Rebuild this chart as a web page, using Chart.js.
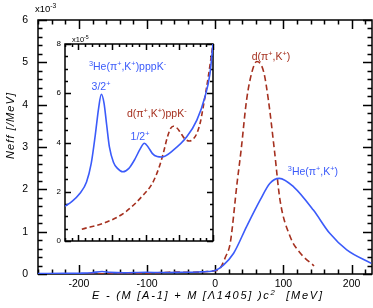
<!DOCTYPE html>
<html>
<head>
<meta charset="utf-8">
<script src="https://cdn.jsdelivr.net/npm/chart.js@4/dist/chart.umd.min.js"></script>
<style>
    html, body { margin: 0; padding: 0; background: #fff; }
    #wrap { position: relative; width: 373px; height: 308px; }
    #main { position: absolute; left: 0; top: 0; }
    #inset { position: absolute; left: 40px; top: 28px; }
</style>
</head>
<body>
<div id="wrap">
    <canvas id="main" width="373" height="308" style="width:373px;height:308px"></canvas>
    <canvas id="inset" width="180" height="222" style="width:180px;height:222px"></canvas>
</div>
<script>
// main panel, N_eff in units of 1e-3 /MeV
const heX = [-260, -220, -198, -181, -166, -154, -134, -102, -77, -50, -24, -11, 0, 12, 27, 46, 66, 80, 94, 115, 144, 168, 193, 229];
const heY = [0.010, 0.014, 0.019, 0.031, 0.060, 0.038, 0.028, 0.040, 0.034, 0.040, 0.049, 0.058, 0.080, 0.21, 0.49, 1.12, 1.75, 2.14, 2.26, 2.06, 1.51, 0.96, 0.57, 0.25];
const dX = [-200, -158, -130, -104, -90, -74, -59, -49, -35, -24, -12, 0, 7, 15, 22, 32, 38, 46, 54, 61, 71, 78, 87, 95, 110, 125, 145];
const dY = [0.005, 0.008, 0.012, 0.019, 0.024, 0.036, 0.047, 0.044, 0.041, 0.044, 0.058, 0.080, 0.13, 0.40, 0.73, 2.14, 2.93, 4.11, 4.78, 5.02, 4.78, 4.11, 2.90, 1.75, 0.88, 0.49, 0.19];
const mainXTicks = [-200, -100, 0, 100, 200];
const mainYTicks = [0, 1, 2, 3, 4, 5, 6];

// inset, units of 1e-5 /MeV
const heInX = [-220, -210, -198, -188, -181, -175, -170, -166, -162, -158, -154, -148, -142, -134, -125, -117, -108, -102, -96, -90, -83, -76, -59, -39, -24, -12, -4.5, 0];
const heInY = [1.41, 1.60, 1.93, 2.40, 3.15, 4.30, 5.40, 5.96, 5.60, 4.70, 3.82, 3.20, 2.95, 2.81, 2.95, 3.28, 3.75, 3.97, 3.80, 3.55, 3.43, 3.41, 3.69, 4.23, 4.91, 5.85, 6.80, 8.00];
const dInX = [-195, -158, -130, -104, -90, -80, -74, -68, -63, -59, -54, -49, -42, -35, -29, -24, -19, -14.5, -7, 0];
const dInY = [0.48, 0.77, 1.18, 1.86, 2.35, 3.00, 3.55, 4.20, 4.57, 4.66, 4.60, 4.43, 4.15, 4.06, 4.15, 4.37, 4.80, 5.45, 6.67, 8.00];
const insetYTicks = [0, 2, 4, 6, 8];

const BLUE = '#3b5bfa';
const RED = '#a5301f';
const FONT = '"Liberation Sans", Arial, sans-serif';

const pts = (xs, ys) => xs.map((x, i) => ({ x: x, y: ys[i] }));

const range = (from, to, step) => {
    const out = [];
    for (let v = Math.ceil(from / step - 1e-9) * step; v <= to + 1e-9; v += step) out.push(v);
    return out;
};

// text with ^{..} superscripts; opts.width spreads the letters to fit
function richText(ctx, str, x, y, size, color, opts) {
    opts = opts || {};
    const parts = [];
    const re = /\^\{([^}]*)\}|([^\^]+)/g;
    let m;
    while ((m = re.exec(str))) {
        if (m[2]) parts.push({ t: m[2], sup: false });
        else parts.push({ t: m[1], sup: true });
    }
    const italic = opts.italic ? 'italic ' : '';
    const fontOf = p => italic + (p.sup ? size * 0.7 : size) + 'px ' + FONT;
    let total = 0, chars = 0;
    parts.forEach(p => {
        ctx.font = fontOf(p);
        total += ctx.measureText(p.t).width;
        chars += p.t.length;
    });
    const extra = opts.width ? (opts.width - total) / (chars - 1) : 0;
    let cx = x;
    if (opts.align === 'center') cx = x - (opts.width || total) / 2;
    ctx.save();
    ctx.fillStyle = color;
    ctx.textBaseline = 'alphabetic';
    ctx.textAlign = 'left';
    parts.forEach(p => {
        ctx.font = fontOf(p);
        const dy = p.sup ? -size * 0.4 : 0;
        for (const ch of p.t) {
            ctx.fillText(ch, cx, y + dy);
            cx += ctx.measureText(ch).width + extra;
        }
    });
    ctx.restore();
}

function frameAndTicks(chart, o) {
    const { ctx, chartArea: a, scales: { x, y } } = chart;
    ctx.save();
    ctx.strokeStyle = '#000';
    ctx.lineWidth = o.lw;
    ctx.beginPath();
    const xt = (vals, len) => vals.forEach(v => {
        const px = Math.round(x.getPixelForValue(v)) + 0.5;
        ctx.moveTo(px, a.bottom); ctx.lineTo(px, a.bottom - len);
        ctx.moveTo(px, a.top); ctx.lineTo(px, a.top + len);
    });
    const yt = (vals, len) => vals.forEach(v => {
        const py = Math.round(y.getPixelForValue(v)) + 0.5;
        ctx.moveTo(a.left, py); ctx.lineTo(a.left + len, py);
        ctx.moveTo(a.right, py); ctx.lineTo(a.right - len, py);
    });
    xt(range(x.min, x.max, o.xMinor), o.minor);
    xt(range(x.min, x.max, o.xMajor), o.major);
    yt(range(y.min, y.max, o.yMinor), o.minor);
    yt(range(y.min, y.max, o.yMajor), o.major);
    ctx.stroke();
    ctx.strokeRect(a.left, a.top, a.right - a.left, a.bottom - a.top);
    ctx.restore();
}

const mainPlugin = {
    id: 'mainDeco',
    beforeDatasetsDraw(chart) {
        frameAndTicks(chart, { lw: 1.5, xMinor: 20, xMajor: 100, yMinor: 0.2, yMajor: 1, minor: 4.5, major: 9 });
    },
    afterDraw(chart) {
        const { ctx, scales: { x, y } } = chart;
        richText(ctx, 'x10^{-3}', 35, 12, 9.5, '#000');
        richText(ctx, 'd(π^{+},K^{+})', x.getPixelForValue(53.5), y.getPixelForValue(5.06), 10.5, RED);
        richText(ctx, '^{3}He(π^{+},K^{+})', x.getPixelForValue(106.5), y.getPixelForValue(2.34), 10.5, BLUE);
        // axis titles
        richText(ctx, 'E - (M [A-1] + M [Λ1405] )c^{2}  [MeV]', 207, 299, 11, '#000', { italic: true, align: 'center', width: 230 });
        ctx.save();
        ctx.translate(14, 126);
        ctx.rotate(-Math.PI / 2);
        richText(ctx, 'Neff [/MeV]', 0, 0, 11, '#000', { italic: true, align: 'center', width: 66 });
        ctx.restore();
    }
};

const insetPlugin = {
    id: 'insetDeco',
    beforeDatasetsDraw(chart) {
        frameAndTicks(chart, { lw: 1.5, xMinor: 10, xMajor: 50, yMinor: 0.5, yMajor: 2, minor: 3, major: 6 });
    },
    afterDraw(chart) {
        const { ctx, chartArea: a, scales: { x, y } } = chart;
        richText(ctx, 'x10^{-5}', a.left + 7, a.top - 2, 7.5, '#000');
        richText(ctx, '^{3}He(π^{+},K^{+})pppK^{-}', x.getPixelForValue(-184.5), y.getPixelForValue(6.94), 10.5, BLUE);
        richText(ctx, '3/2^{+}', x.getPixelForValue(-180.5), y.getPixelForValue(6.13), 10.5, BLUE);
        richText(ctx, '1/2^{+}', x.getPixelForValue(-122.5), y.getPixelForValue(4.1), 10.5, BLUE);
        richText(ctx, 'd(π^{+},K^{+})ppK^{-}', x.getPixelForValue(-128), y.getPixelForValue(5.02), 10.5, RED);
    }
};

const lineSet = (label, data, color, dash) => ({
    label: label,
    data: data,
    borderColor: color,
    borderWidth: 1.6,
    borderDash: dash || [],
    pointRadius: 0,
    fill: false,
    cubicInterpolationMode: 'monotone'
});

const fixTicks = vals => s => { s.ticks = vals.map(v => ({ value: v })); };

new Chart(document.getElementById('main'), {
    type: 'line',
    data: {
        datasets: [
            lineSet('3He(π+,K+)', pts(heX, heY), BLUE),
            lineSet('d(π+,K+)', pts(dX, dY), RED, [6, 3.5])
        ]
    },
    options: {
        responsive: false,
        animation: false,
        layout: { padding: { top: 20, right: 1, left: 0, bottom: 0 } },
        plugins: { legend: { display: false }, tooltip: { enabled: false } },
        scales: {
            x: {
                type: 'linear', min: -260, max: 230,
                afterBuildTicks: fixTicks(mainXTicks),
                ticks: { autoSkip: false, color: '#000', padding: 4, maxRotation: 0, font: { family: FONT, size: 10.5 } },
                grid: { display: false, drawTicks: false }, border: { display: false },
                afterFit: s => { s.height = 34; }
            },
            y: {
                type: 'linear', min: 0, max: 6,
                afterBuildTicks: fixTicks(mainYTicks),
                ticks: { autoSkip: false, color: '#000', padding: 10, font: { family: FONT, size: 10.5 } },
                grid: { display: false, drawTicks: false }, border: { display: false },
                afterFit: s => { s.width = 38; }
            }
        }
    },
    plugins: [mainPlugin]
});

new Chart(document.getElementById('inset'), {
    type: 'line',
    data: {
        datasets: [
            lineSet('3He(π+,K+)pppK-', pts(heInX, heInY), BLUE),
            lineSet('d(π+,K+)ppK-', pts(dInX, dInY), RED, [5, 3])
        ]
    },
    options: {
        responsive: false,
        animation: false,
        layout: { padding: { top: 16, right: 7, left: 0, bottom: 0 } },
        plugins: { legend: { display: false }, tooltip: { enabled: false } },
        scales: {
            x: {
                type: 'linear', min: -220, max: 0,
                ticks: { display: false },
                grid: { display: false, drawTicks: false }, border: { display: false },
                afterFit: s => { s.height = 9; }
            },
            y: {
                type: 'linear', min: 0, max: 8,
                afterBuildTicks: fixTicks(insetYTicks),
                ticks: { autoSkip: false, color: '#000', padding: 4, font: { family: FONT, size: 8 } },
                grid: { display: false, drawTicks: false }, border: { display: false },
                afterFit: s => { s.width = 25; }
            }
        }
    },
    plugins: [insetPlugin]
});
</script>
</body>
</html>
